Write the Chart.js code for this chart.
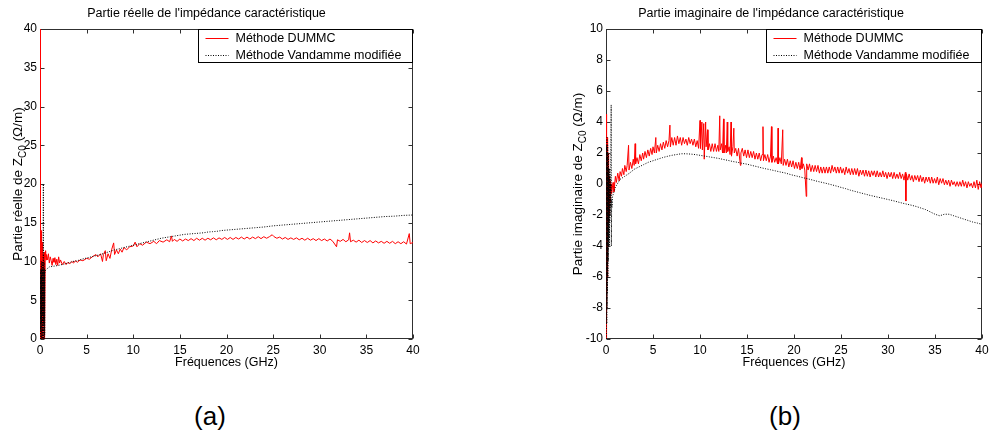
<!DOCTYPE html>
<html>
<head>
<meta charset="utf-8">
<script src="https://cdn.jsdelivr.net/npm/chart.js@4.4.0/dist/chart.umd.min.js"></script>
<style>
  body { margin: 0; background: #fff; width: 989px; height: 432px; position: relative; overflow: hidden; }
  .box { position: absolute; top: 0; }
  .cap { position: absolute; width: 100px; text-align: center; font: 26px "Liberation Sans", Arial, sans-serif; color: #000; }
</style>
</head>
<body>
<div class="box" style="left:0"><canvas id="chartA" width="430" height="375"></canvas></div>
<div class="box" style="left:560px"><canvas id="chartB" width="429" height="375"></canvas></div>
<div class="cap" style="left:160px;top:401px">(a)</div>
<div class="cap" style="left:735px;top:401px">(b)</div>
<script>
// ------DATA--------
const seriesNames = ["Méthode DUMMC", "Méthode Vandamme modifiée"];
const xTicks = [0, 5, 10, 15, 20, 25, 30, 35, 40];
const yTicksReel = [0, 5, 10, 15, 20, 25, 30, 35, 40];
const yTicksImag = [-10, -8, -6, -4, -2, 0, 2, 4, 6, 8, 10];

// [frequency GHz, value Ω/m]
const reelDummc = [[0.02,0],[0.025,40],[0.03,0],[0.05,21],[0.07,3],[0.09,16],[0.11,1],[0.13,14],[0.15,5],[0.17,13],[0.19,0],[0.21,12],[0.23,4],[0.25,11.5],[0.27,1],[0.29,12.5],[0.31,0],[0.33,11],[0.35,6],[0.37,10.5],[0.39,2],[0.41,11],[0.43,0],[0.45,10.5],[0.47,7],[0.5,11.2],[0.53,0],[0.56,10.5],[0.6,11.4],[0.65,10.2],[0.7,10.9],[0.8,10.2],[0.9,11],[1.0,9.8],[1.1,10.6],[1.2,10.1],[1.3,9.5],[1.4,10.4],[1.5,9.9],[1.6,10.5],[1.7,9.6],[1.8,10.3],[1.9,9.5],[2.0,10.6],[2.1,9.8],[2.2,10.2],[2.4,9.6],[2.6,10.0],[2.8,9.6],[3.0,9.9],[3.2,9.7],[3.4,10.0],[3.6,9.8],[3.8,10.1],[4.0,9.9],[4.3,10.2],[4.6,10.1],[5.0,10.4],[5.3,10.3],[5.6,10.6],[6.0,10.9],[6.2,10.6],[6.5,11.0],[6.7,10.0],[6.8,10.9],[7.0,11.4],[7.1,10.1],[7.3,11.0],[7.5,10.4],[7.7,11.6],[7.9,12.4],[8.0,10.9],[8.2,11.5],[8.4,11.0],[8.6,11.6],[8.8,11.2],[9.0,11.8],[9.3,11.5],[9.6,11.9],[10.0,12.0],[10.2,12.5],[10.4,11.9],[10.7,12.3],[11.0,12.1],[11.4,12.5],[11.8,12.3],[12.2,12.6],[12.5,12.3],[12.8,12.7],[13.2,12.5],[13.6,12.8],[13.9,12.55],
[14.1,13.3],[14.2,12.6],[14.4,12.85],[14.7,12.6],[15.0,12.9],[15.3,12.65],[15.6,12.9],[15.9,12.7],[16.2,12.95],[16.5,12.7],[16.8,13.0],[17.1,12.75],[17.4,13.0],[17.7,12.75],[18.0,13.0],[18.3,12.8],[18.6,13.05],[18.9,12.8],[19.2,13.05],[19.5,12.85],[19.8,13.1],[20.1,12.85],[20.4,13.1],[20.7,12.85],[21.0,13.1],[21.3,12.9],[21.6,13.15],[21.9,12.9],[22.2,13.15],[22.5,12.9],[22.8,13.15],[23.1,12.95],[23.4,13.2],[23.7,12.95],[24.0,13.2],[24.3,13.0],[24.6,13.2],[24.9,13.45],[25.1,13.2],[25.4,13.0],[25.7,13.15],[26.0,12.9],[26.3,13.1],[26.6,12.85],[26.9,13.05],[27.2,12.85],[27.5,13.05],[27.8,12.8],[28.1,13.0],[28.4,12.75],[28.7,13.0],[29.0,12.75],[29.3,12.95],[29.6,12.7],[29.9,12.95],
[30.2,12.7],[30.5,12.9],[30.8,12.65],[31.1,12.9],[31.4,12.6],[31.8,11.9],[31.9,12.8],[32.2,12.6],[32.5,12.85],[32.8,12.55],[33.1,12.8],[33.2,13.7],[33.3,12.55],[33.6,12.75],[33.9,12.5],[34.2,12.75],[34.5,12.45],[34.8,12.7],[35.1,12.45],[35.4,12.7],[35.7,12.4],[36.0,12.65],[36.3,12.4],[36.6,12.6],[36.9,12.35],[37.2,12.6],[37.5,12.35],[37.8,12.6],[38.1,12.3],[38.4,12.55],[38.7,12.3],[39.0,12.55],[39.3,12.25],[39.6,13.6],[39.7,12.3],[40.0,12.45]];

const reelVand = [[0.04,0],[0.06,9],[0.08,1],[0.1,8],[0.12,0],[0.14,10],[0.16,2],[0.18,9],[0.2,0],[0.22,10],[0.24,3],[0.26,9],[0.28,0],[0.3,10],[0.32,1],[0.34,9.5],[0.36,20],[0.38,0],[0.4,9],[0.42,2],[0.44,10],[0.46,0],[0.48,9],[0.5,0.5],[0.52,8.5],[0.6,8.9],[0.8,9.1],[1,9.3],[1.5,9.4],[2,9.5],[2.5,9.65],[3,9.8],[3.5,10.0],[4,10.1],[4.5,10.3],[5,10.45],[5.5,10.6],[6,10.75],[6.5,10.9],[7,11.1],[7.5,11.3],[8,11.5],[8.5,11.65],[9,11.8],[9.5,11.95],[10,12.1],[10.5,12.25],[11,12.4],[11.5,12.55],[12,12.7],[12.5,12.85],[13,13.0],[13.5,13.1],[14,13.2],[14.5,13.3],[15,13.4],[15.5,13.5],[16,13.55],[16.5,13.6],[17,13.65],[17.5,13.7],[18,13.8],[18.5,13.85],[19,13.9],[19.5,14.0],[20,14.05],[21,14.15],[22,14.25],[23,14.35],[24,14.45],[25,14.6],[26,14.7],[27,14.8],[28,14.9],[29,15.0],[30,15.1],[31,15.2],[32,15.3],[33,15.4],[34,15.5],[35,15.6],[36,15.7],[37,15.8],[38,15.85],[39,15.95],[40,16.0]];

const imagDummc = [[0.02,-10],[0.03,4.5],[0.05,-9],[0.07,3.3],[0.09,-8],[0.11,3],[0.13,-6],[0.15,3],[0.17,-4.5],[0.19,2.5],[0.21,-3],[0.23,2],[0.25,-2.5],[0.28,1],[0.3,-1.5],[0.33,0.5],[0.36,-2],[0.4,0],[0.43,-1.2],[0.47,0.2],[0.5,-0.8],[0.55,0],
[0.6,-0.6],[0.75,0.1],[0.85,-0.5],[1.0,0.5],[1.1,0.1],[1.25,0.7],[1.4,0.2],[1.5,0.8],[1.65,0.5],[1.75,1.0],[1.9,0.6],[2.0,1.2],[2.15,0.8],[2.25,1.2],[2.4,2.5],[2.45,0.9],[2.6,1.4],[2.75,1.0],[2.9,1.6],[3.0,1.2],[3.1,2.6],[3.15,1.3],[3.3,1.7],[3.45,1.3],[3.6,1.9],[3.75,1.5],[3.9,2.0],[4.0,1.6],[4.15,2.1],[4.3,1.7],[4.45,2.2],[4.6,1.8],[4.75,2.3],[4.9,1.9],[5.0,2.4],[5.15,2.0],[5.3,3.0],[5.35,2.0],[5.5,2.5],[5.65,2.1],[5.8,2.6],[5.95,2.2],[6.1,2.7],[6.25,2.3],[6.4,2.8],[6.55,2.4],[6.7,2.8],[6.8,3.8],[6.85,2.4],[7.0,3.0],[7.15,2.5],[7.3,3.0],[7.45,2.5],[7.6,3.1],[7.75,2.6],[7.9,3.0],[8.05,2.5],[8.2,3.0],[8.35,2.6],[8.5,2.9],[8.65,2.5],[8.8,3.0],[8.95,2.6],[9.1,2.9],[9.25,2.5],[9.4,2.9],[9.55,2.4],[9.7,2.8],[9.85,2.3],
[10.0,4.1],[10.05,2.3],[10.2,4.0],[10.25,2.2],[10.4,3.9],[10.45,1.6],[10.6,4.0],[10.65,2.4],[10.8,3.5],[10.85,2.2],[11.0,2.6],[11.15,2.1],[11.3,2.6],[11.45,2.1],[11.6,2.6],[11.75,2.1],[11.9,2.5],[12.0,2.1],[12.1,4.4],[12.15,2.2],[12.3,2.6],[12.4,2.0],[12.5,4.2],[12.55,2.0],[12.7,2.5],[12.8,2.0],[12.9,4.0],[12.95,2.1],[13.1,2.4],[13.2,1.9],[13.3,4.0],[13.35,1.8],[13.5,2.4],[13.6,3.6],[13.65,2.0],[13.8,2.3],[13.95,1.8],[14.1,2.3],[14.3,1.2],[14.35,2.0],[14.5,2.3],[14.65,1.8],[14.8,2.2],[14.95,1.7],[15.1,2.2],[15.25,1.7],[15.4,2.1],[15.55,1.7],[15.7,2.1],[15.85,1.6],[16.0,2.0],[16.15,1.6],[16.3,2.0],[16.45,1.5],[16.6,1.9],[16.7,3.7],[16.75,1.5],[16.9,1.9],[17.05,1.5],[17.2,1.9],[17.35,1.4],[17.5,1.8],[17.6,3.7],[17.65,1.4],[17.8,1.8],[17.95,1.4],[18.1,1.7],[18.25,1.3],[18.3,3.6],[18.35,1.3],[18.5,1.7],[18.65,1.3],[18.8,3.5],[18.85,1.2],[19.0,1.6],[19.15,1.2],[19.3,1.6],[19.45,1.1],[19.6,1.5],[19.75,1.1],[19.9,1.5],
[20.05,1.0],[20.2,1.4],[20.35,1.0],[20.5,1.4],[20.65,0.9],[20.8,1.7],[20.85,1.0],[21.0,1.3],[21.15,0.9],[21.3,-0.8],[21.35,1.3],[21.5,0.9],[21.65,1.3],[21.8,0.8],[21.95,1.2],[22.1,0.8],[22.25,1.2],[22.4,0.8],[22.55,1.2],[22.7,0.7],[22.85,1.1],[23.0,0.7],[23.15,1.1],[23.3,0.7],[23.45,1.1],[23.6,0.7],[23.75,1.1],[23.9,0.7],[24.05,1.2],[24.2,0.8],[24.35,1.1],[24.5,0.7],[24.65,1.1],[24.8,0.7],[24.95,1.1],[25.1,0.7],[25.25,1.0],[25.4,0.6],[25.55,1.1],[25.7,0.7],[25.85,1.0],[26.0,0.6],[26.15,1.0],[26.3,0.6],[26.45,1.0],[26.6,0.6],[26.75,1.0],[26.9,0.5],[27.05,0.9],[27.2,0.6],[27.35,0.9],[27.5,0.5],[27.65,0.9],[27.8,0.5],[27.95,0.85],[28.1,0.45],[28.25,0.85],[28.4,0.55],[28.55,0.85],[28.7,0.45],[28.85,0.85],[29.0,0.45],[29.15,0.75],[29.3,0.45],[29.45,0.85],[29.6,0.45],[29.75,0.75],[29.9,0.35],
[30.05,0.75],[30.2,0.45],[30.35,0.75],[30.5,0.35],[30.65,0.75],[30.8,0.35],[30.95,0.65],[31.1,0.35],[31.25,0.75],[31.4,0.35],[31.55,0.65],[31.7,0.25],[31.85,0.75],[31.9,-1.1],[31.95,0.65],[32.1,0.25],[32.25,0.65],[32.4,0.25],[32.55,0.55],[32.7,0.15],[32.85,0.55],[33.0,0.25],[33.15,0.55],[33.3,0.15],[33.45,0.55],[33.6,0.15],[33.75,0.45],[33.9,0.05],[34.05,0.45],[34.2,0.15],[34.35,0.45],[34.5,0.05],[34.65,0.45],[34.8,0.05],[34.95,0.35],[35.1,0.05],[35.25,0.45],[35.4,-0.05],[35.55,0.35],[35.7,0.05],[35.85,0.35],[36.0,-0.05],[36.15,0.25],[36.3,-0.05],[36.45,0.25],[36.6,-0.15],[36.75,0.25],[36.9,-0.05],[37.05,0.15],[37.2,-0.15],[37.35,0.15],[37.5,-0.15],[37.65,0.15],[37.8,-0.15],[37.95,0.25],[38.1,-0.15],[38.25,0.15],[38.4,-0.25],[38.55,0.15],[38.7,-0.15],[38.85,0.05],[39.0,-0.25],[39.15,0.15],[39.3,-0.25],[39.45,0.25],[39.6,-0.35],[39.75,0.15],[39.9,-0.25],[40.0,0.05]];

const imagVand = [[0.04,-10],[0.06,2.5],[0.08,-9],[0.1,3],[0.12,-8],[0.14,2],[0.16,-7],[0.18,2.5],[0.2,-6],[0.22,1],[0.24,-5],[0.26,2],[0.28,-4],[0.3,1],[0.32,-3.5],[0.34,0.5],[0.36,-4],[0.38,1],[0.4,-2.5],[0.42,0.5],[0.44,-2],[0.46,0],[0.48,-1.5],[0.5,-0.5],[0.55,5.1],[0.57,-4],[0.6,-1],[0.65,-1.5],[0.7,-0.8],[0.8,-0.6],[1.0,-0.2],[1.2,0.0],[1.5,0.3],[2.0,0.5],[2.5,0.7],[3.0,0.95],[3.5,1.1],[4.0,1.25],[4.5,1.4],[5.0,1.5],[5.5,1.6],[6.0,1.7],[6.5,1.78],[7.0,1.85],[7.5,1.9],[8.0,1.95],[8.5,1.95],[9.0,1.93],[9.5,1.9],[10.0,1.85],[10.5,1.8],[11,1.75],[11.5,1.7],[12,1.65],[12.5,1.58],[13,1.52],[13.5,1.45],[14,1.4],[14.5,1.33],[15,1.28],[15.5,1.2],[16,1.13],[16.5,1.05],[17,0.98],[17.5,0.92],[18,0.85],[18.5,0.78],[19,0.72],[19.5,0.63],[20,0.55],[20.5,0.48],[21,0.4],[21.5,0.33],[22,0.25],[22.5,0.17],[23,0.1],[23.5,0.03],[24,-0.05],[24.5,-0.13],[25,-0.22],[25.5,-0.3],[26,-0.4],[26.5,-0.48],[27,-0.56],[27.5,-0.64],[28,-0.72],[28.5,-0.79],[29,-0.86],[29.5,-0.93],[30,-1.0],[30.5,-1.07],[31,-1.15],[31.5,-1.23],[32,-1.3],[32.5,-1.37],[33,-1.45],[33.5,-1.55],[34,-1.65],[34.5,-1.8],[35,-1.95],[35.5,-2.05],[36,-1.95],[36.5,-1.95],[37,-2.05],[37.5,-2.15],[38,-2.25],[38.5,-2.35],[39,-2.45],[39.5,-2.52],[40,-2.6]];

// ------HELPERS--------
const FONT = '"Liberation Sans", Arial, sans-serif';
const toXY = arr => arr.map(p => ({ x: p[0], y: p[1] }));

// box + inward ticks under the data, y title and legend on top
const matlabAxes = {
    id: "matlabAxes",
    beforeDatasetsDraw(chart) {
        const { ctx, chartArea: a, scales } = chart;
        ctx.save();
        ctx.strokeStyle = "#303030";
        ctx.lineWidth = 1;
        const L = Math.round(a.left) + 0.5, R = Math.round(a.right) - 0.5;
        const T = Math.round(a.top) + 0.5, B = Math.round(a.bottom) - 0.5;
        ctx.strokeRect(L, T, R - L, B - T);
        ctx.beginPath();
        scales.x.ticks.forEach(t => {
            const px = Math.round(scales.x.getPixelForValue(t.value)) + 0.5;
            ctx.moveTo(px, B); ctx.lineTo(px, B - 4);
            ctx.moveTo(px, T); ctx.lineTo(px, T + 4);
        });
        scales.y.ticks.forEach(t => {
            const py = Math.round(scales.y.getPixelForValue(t.value)) + 0.5;
            ctx.moveTo(L, py); ctx.lineTo(L + 4, py);
            ctx.moveTo(R, py); ctx.lineTo(R - 4, py);
        });
        ctx.stroke();
        ctx.restore();
    },
    afterDatasetsDraw(chart, args, opts) {
        const { ctx, chartArea: a } = chart;
        ctx.save();

        // y title: main + subscript + tail
        const [main, sub, tail] = opts.yTitle;
        const big = "13.5px " + FONT, small = "10px " + FONT;
        ctx.fillStyle = "#000";
        ctx.textBaseline = "alphabetic";
        ctx.font = big; const w1 = ctx.measureText(main).width, w3 = ctx.measureText(tail).width;
        ctx.font = small; const w2 = ctx.measureText(sub).width;
        const total = w1 + w2 + w3;
        ctx.save();
        ctx.translate(opts.yTitleX, (a.top + a.bottom) / 2);
        ctx.rotate(-Math.PI / 2);
        const x0 = -total / 2;
        ctx.font = big; ctx.fillText(main, x0, 5);
        ctx.font = small; ctx.fillText(sub, x0 + w1, 8.5);
        ctx.font = big; ctx.fillText(tail, x0 + w1 + w2, 5);
        ctx.restore();

        // legend
        const lw = opts.legendWidth, lh = 33;
        const lx = Math.round(a.right) - lw - 0.5, ly = Math.round(a.top) + 0.5;
        ctx.fillStyle = "#fff";
        ctx.fillRect(lx, ly, lw, lh);
        ctx.strokeStyle = "#000";
        ctx.lineWidth = 1;
        ctx.strokeRect(lx, ly, lw, lh);
        ctx.font = "12.5px " + FONT;
        ctx.textBaseline = "middle";
        chart.data.datasets.forEach((ds, i) => {
            const yy = Math.round(ly + 8 + i * 17) + 0.5;
            ctx.beginPath();
            ctx.strokeStyle = ds.borderColor;
            ctx.setLineDash(ds.borderDash || []);
            ctx.moveTo(lx + 7, yy); ctx.lineTo(lx + 30, yy);
            ctx.stroke();
            ctx.setLineDash([]);
            ctx.fillStyle = "#000";
            ctx.fillText(ds.label, lx + 37, yy + 0.5);
        });
        ctx.restore();
    }
};

function makeChart(canvasId, title, red, black, yTicks, yTitle, yWidth, padRight, legendWidth) {
    return new Chart(document.getElementById(canvasId), {
        type: "line",
        data: {
            datasets: [
                {
                    label: seriesNames[0],
                    data: toXY(red),
                    borderColor: "#ff0000",
                    borderWidth: 1,
                    pointRadius: 0,
                    tension: 0,
                    order: 2
                },
                {
                    label: seriesNames[1],
                    data: toXY(black),
                    borderColor: "#000000",
                    borderWidth: 1,
                    borderDash: [1, 1.5],
                    pointRadius: 0,
                    tension: 0,
                    order: 1
                }
            ]
        },
        options: {
            responsive: false,
            animation: false,
            events: [],
            layout: { padding: { top: 0, left: 0, right: padRight, bottom: 4.5 } },
            plugins: {
                legend: { display: false },
                tooltip: { enabled: false },
                title: {
                    display: true,
                    text: title,
                    color: "#000",
                    font: { family: FONT, size: 12.5, weight: "normal" },
                    padding: { top: 6, bottom: 8 }
                },
                matlabAxes: { yTitle: yTitle, yTitleX: 17, legendWidth: legendWidth }
            },
            scales: {
                x: {
                    type: "linear",
                    min: xTicks[0],
                    max: xTicks[xTicks.length - 1],
                    grid: { display: false, drawTicks: false },
                    border: { display: false },
                    ticks: {
                        stepSize: xTicks[1] - xTicks[0],
                        color: "#000",
                        padding: 4,
                        maxRotation: 0,
                        autoSkip: false,
                        font: { family: FONT, size: 12 }
                    },
                    title: {
                        display: true,
                        text: "Fréquences (GHz)",
                        color: "#000",
                        font: { family: FONT, size: 12.5 },
                        padding: { top: 0, bottom: 0.5 }
                    },
                    afterFit: s => { s.height = 31.5; s.paddingLeft = 0; s.paddingRight = 0; }
                },
                y: {
                    type: "linear",
                    min: yTicks[0],
                    max: yTicks[yTicks.length - 1],
                    grid: { display: false, drawTicks: false },
                    border: { display: false },
                    ticks: {
                        stepSize: yTicks[1] - yTicks[0],
                        color: "#000",
                        padding: 3,
                        autoSkip: false,
                        font: { family: FONT, size: 12 }
                    },
                    afterFit: s => { s.width = yWidth; s.paddingTop = 0; s.paddingBottom = 0; }
                }
            }
        },
        plugins: [matlabAxes]
    });
}

// ------CHARTS--------
makeChart("chartA", "Partie réelle de l'impédance caractéristique", reelDummc, reelVand,
    yTicksReel, ["Partie réelle de Z", "C0", " (Ω/m)"], 40, 17, 214);
makeChart("chartB", "Partie imaginaire de l'impédance caractéristique", imagDummc, imagVand,
    yTicksImag, ["Partie imaginaire de Z", "C0", " (Ω/m)"], 46, 7, 215);
</script>
</body>
</html>
